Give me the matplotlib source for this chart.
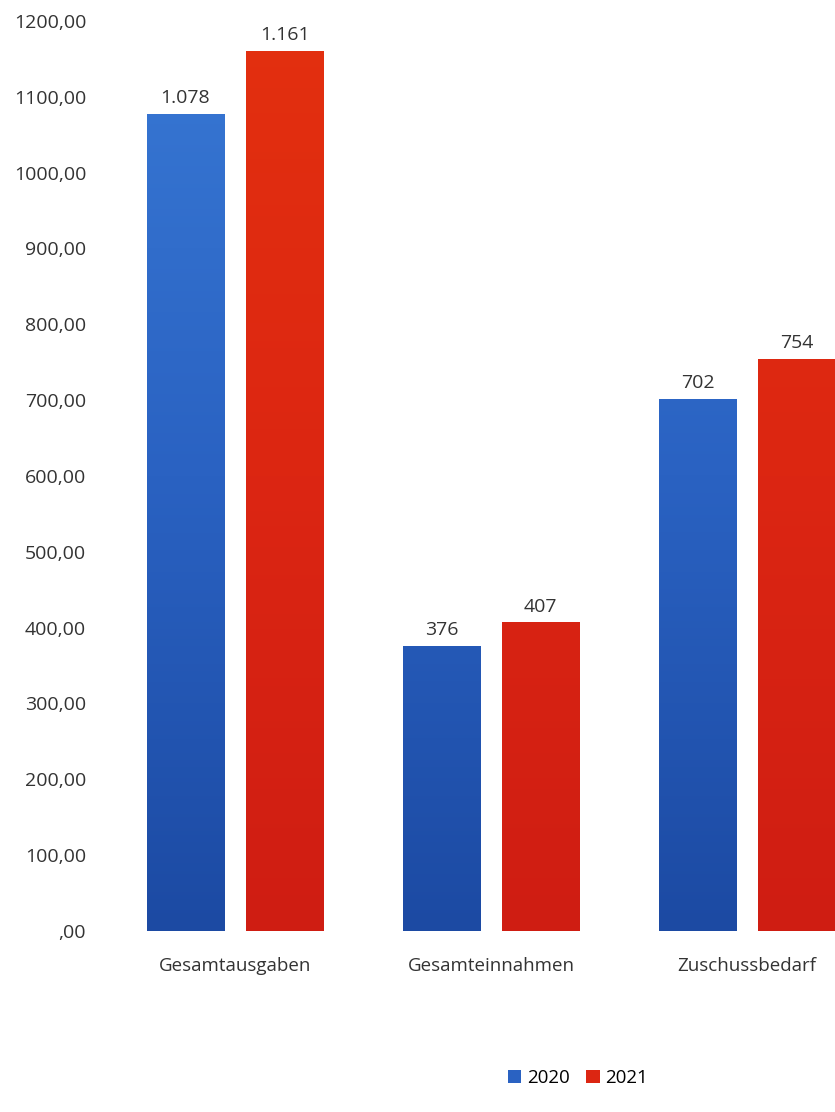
import matplotlib
matplotlib.use("Agg")
import matplotlib.pyplot as plt
import numpy as np
from matplotlib.colors import LinearSegmentedColormap
from matplotlib.patches import Patch

categories = ["Gesamtausgaben", "Gesamteinnahmen", "Zuschussbedarf"]
series_names = ["2020", "2021"]
values_2020 = [1078, 376, 702]
values_2021 = [1161, 407, 754]
labels_2020 = ["1.078", "376", "702"]
labels_2021 = ["1.161", "407", "754"]
yticks = [0, 100, 200, 300, 400, 500, 600, 700, 800, 900, 1000, 1100, 1200]
ytick_labels = [",00", "100,00", "200,00", "300,00", "400,00", "500,00", "600,00",
                "700,00", "800,00", "900,00", "1000,00", "1100,00", "1200,00"]

plt.rcParams['font.family'] = ['Open Sans', 'DejaVu Sans']

fig = plt.figure(figsize=(8.35, 11.12), dpi=100)
ax = fig.add_axes([125/835, (1112-931)/1112, 1-125/835, (931-21)/1112])

x = np.arange(len(categories))
w = 78/256
off = 49.5/256

blue_cmap = LinearSegmentedColormap.from_list("b", ["#1c4aa3", "#2a62c2", "#3878d4"])
red_cmap = LinearSegmentedColormap.from_list("r", ["#cf1d12", "#dc2612", "#e3300f"])

def grad_bars(xs, vals, cmap):
    bars = ax.bar(xs, vals, width=w, color="none", edgecolor="none", zorder=2)
    grad = np.linspace(0, 1, 256).reshape(-1, 1)
    for b in bars:
        bx = b.get_x()
        bw = b.get_width()
        im = ax.imshow(grad, cmap=cmap, origin="lower", aspect="auto",
                       extent=[bx, bx+bw, 0, 1200], zorder=2)
        im.set_clip_path(b)
    return bars

b1 = grad_bars(x - off, values_2020, blue_cmap)
b2 = grad_bars(x + off, values_2021, red_cmap)

for xi, v, t in zip(x - off, values_2020, labels_2020):
    ax.text(xi, v + 9, t, ha="center", va="bottom", fontsize=14, color="#333333")
for xi, v, t in zip(x + off, values_2021, labels_2021):
    ax.text(xi, v + 9, t, ha="center", va="bottom", fontsize=14, color="#333333")

ax.set_xlim(-110/256, 600/256)
ax.set_ylim(0, 1200)
ax.set_yticks(yticks)
ax.set_yticklabels(ytick_labels, fontsize=14, color="#333333")
ax.set_xticks(x)
ax.set_xticklabels(categories, fontsize=13.5, color="#333333")
ax.tick_params(axis="y", length=0, pad=28)
ax.tick_params(axis="x", length=0, pad=19)
for s in ax.spines.values():
    s.set_visible(False)

handles = [Patch(facecolor="#2a62c2", label="2020"), Patch(facecolor="#dc2612", label="2021")]
fig.legend(handles=handles, loc="center", bbox_to_anchor=(578/835, 1-1078/1112),
           ncol=2, frameon=False, fontsize=13.5, handlelength=0.7, handleheight=0.7,
           handletextpad=0.3, columnspacing=0.9)

fig.savefig("out.png", dpi=100)
